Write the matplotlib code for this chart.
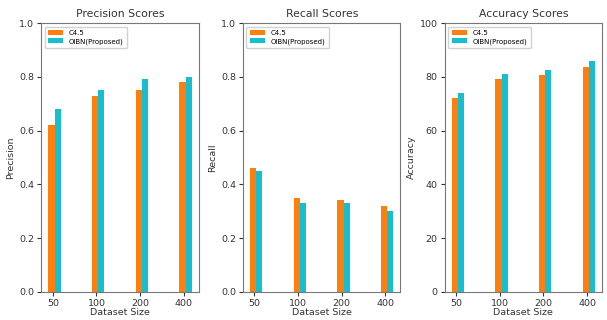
import numpy as np
import matplotlib.pyplot as plt

sizes = ["50", "100", "200", "400"]
labels = ["C4.5", "OIBN(Proposed)"]

precision_c45 = [0.62, 0.73, 0.75, 0.78]
precision_oibn = [0.68, 0.75, 0.79, 0.80]
recall_c45 = [0.46, 0.35, 0.34, 0.32]
recall_oibn = [0.45, 0.33, 0.33, 0.30]
accuracy_c45 = [72, 79, 80.5, 83.5]
accuracy_oibn = [74, 81, 82.5, 86]

panels = [
    ("Precision Scores", "Precision", precision_c45, precision_oibn, (0, 1.0)),
    ("Recall Scores", "Recall", recall_c45, recall_oibn, (0, 1.0)),
    ("Accuracy Scores", "Accuracy", accuracy_c45, accuracy_oibn, (0, 100)),
]

fig, axes = plt.subplots(1, 3, figsize=(6.07, 3.2), dpi=100)
fig.subplots_adjust(left=0.068, right=0.992, top=0.928, bottom=0.088, wspace=0.28)

x = np.arange(len(sizes))
w = 0.14
for ax, (title, ylab, a, b, lim) in zip(axes, panels):
    ax.bar(x, a, w, color="#ff7f0e", label=labels[0])
    ax.bar(x + w, b, w, color="#17becf", label=labels[1])
    ax.set_xticks(x + w / 2 - 0.04)
    ax.set_xticklabels(sizes)
    ax.set_ylim(*lim)
    ax.set_title(title, fontsize=7.8, color="#333333", pad=4)
    ax.set_ylabel(ylab, fontsize=6.8, color="#333333", labelpad=3)
    ax.set_xlabel("Dataset Size", fontsize=6.8, color="#333333", labelpad=0)
    ax.tick_params(labelsize=6.8, colors="#333333", length=3, pad=2)
    for s in ax.spines.values():
        s.set_color("#777777")
    ax.legend(loc="upper left", fontsize=5, handlelength=2.2, borderpad=0.5,
              labelspacing=0.3, framealpha=0.9)

fig.savefig("out.png", dpi=100)
